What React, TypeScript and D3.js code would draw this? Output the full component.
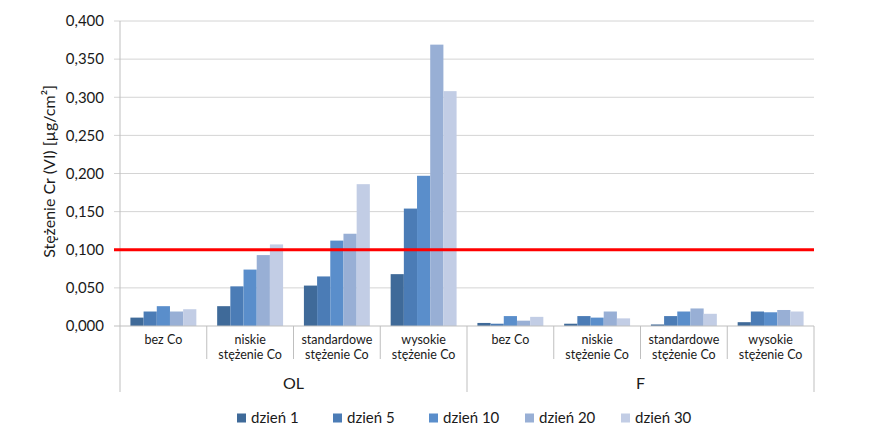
//@ts-nocheck
import React, { useRef, useEffect } from 'react'
import * as d3 from 'd3'

const groups = ['OL', 'F']
const subCategories = ['bez Co', 'niskie stężenie Co', 'standardowe stężenie Co', 'wysokie stężenie Co']
const series = ['dzień 1', 'dzień 5', 'dzień 10', 'dzień 20', 'dzień 30']
const colors = ['#3F6A99', '#4B7CB6', '#5A8ECB', '#98AFD5', '#C2CDE5']

// values per series, order: OL (4 subcategories), then F (4 subcategories)
const day1 = [0.011, 0.026, 0.053, 0.068, 0.004, 0.003, 0.002, 0.005]
const day5 = [0.019, 0.052, 0.065, 0.154, 0.003, 0.013, 0.013, 0.019]
const day10 = [0.026, 0.074, 0.112, 0.197, 0.013, 0.011, 0.019, 0.018]
const day20 = [0.019, 0.093, 0.121, 0.369, 0.007, 0.019, 0.023, 0.021]
const day30 = [0.022, 0.107, 0.186, 0.308, 0.012, 0.010, 0.016, 0.019]
const seriesValues = [day1, day5, day10, day20, day30]

const yTicks = [0, 0.05, 0.1, 0.15, 0.2, 0.25, 0.3, 0.35, 0.4]
const limitValue = 0.1

const fontFamily = 'Lato, "Open Sans", sans-serif'
const textColor = '#1a1a1a'

const App: React.FC = () => {
  const node = useRef<SVGSVGElement | null>(null)

  useEffect(() => {
    document.body.style.margin = '0'
    const width = 872
    const height = 447
    const svg = d3.select(node.current)
    svg.selectAll('*').remove()
    svg.attr('width', width).attr('height', height)

    const margin = { top: 21, right: 58, bottom: 121, left: 120 }
    const plotBottom = height - margin.bottom

    const keys = []
    groups.forEach((g) => subCategories.forEach((s) => keys.push(g + '|' + s)))

    const x = d3.scaleBand().domain(keys).range([margin.left, width - margin.right]).paddingInner(0).paddingOuter(0)
    const xGroup = d3.scaleBand().domain(groups).range([margin.left, width - margin.right])
    const xSeries = d3.scaleBand().domain(series).range([0, x.bandwidth()]).paddingInner(0).paddingOuter(0.79)

    const y = d3.scaleLinear().domain([0, 0.4]).range([plotBottom, margin.top])

    const fmt = (v) => d3.format('.3f')(v).replace('.', ',')

    // gridlines
    svg
      .append('g')
      .selectAll('line')
      .data(yTicks.filter((t) => t > 0))
      .join('line')
      .attr('x1', margin.left - 6)
      .attr('x2', width - margin.right)
      .attr('y1', (d) => y(d))
      .attr('y2', (d) => y(d))
      .attr('stroke', '#D4D4D4')
      .attr('stroke-width', 1)

    // tick mark at zero
    svg
      .append('line')
      .attr('x1', margin.left - 6)
      .attr('x2', margin.left)
      .attr('y1', y(0))
      .attr('y2', y(0))
      .attr('stroke', '#BFBFBF')

    // y labels
    svg
      .append('g')
      .selectAll('text')
      .data(yTicks)
      .join('text')
      .attr('x', margin.left - 16)
      .attr('y', (d) => y(d))
      .attr('dy', '0.35em')
      .attr('text-anchor', 'end')
      .attr('font-family', fontFamily)
      .attr('font-size', 15)
      .attr('fill', textColor)
      .text((d) => fmt(d))

    // y axis line
    svg
      .append('line')
      .attr('x1', margin.left)
      .attr('x2', margin.left)
      .attr('y1', margin.top)
      .attr('y2', plotBottom)
      .attr('stroke', '#BFBFBF')

    // y axis title
    svg
      .append('text')
      .attr('transform', `translate(55,${(margin.top + plotBottom) / 2 - 2}) rotate(-90)`)
      .attr('text-anchor', 'middle')
      .attr('font-family', fontFamily)
      .attr('font-size', 16)
      .attr('fill', textColor)
      .text('Stężenie Cr (VI) [µg/cm²]')

    // bars
    const barG = svg.append('g')
    series.forEach((s, si) => {
      barG
        .append('g')
        .selectAll('rect')
        .data(seriesValues[si])
        .join('rect')
        .attr('x', (d, i) => x(keys[i]) + xSeries(s))
        .attr('width', xSeries.bandwidth())
        .attr('y', (d) => y(d))
        .attr('height', (d) => y(0) - y(d))
        .attr('fill', colors[si])
    })

    // category axis line
    svg
      .append('line')
      .attr('x1', margin.left)
      .attr('x2', width - margin.right)
      .attr('y1', plotBottom)
      .attr('y2', plotBottom)
      .attr('stroke', '#BFBFBF')

    // subcategory separators
    const sepG = svg.append('g')
    keys.forEach((k, i) => {
      const isGroupEdge = i % subCategories.length === 0
      sepG
        .append('line')
        .attr('x1', x(k))
        .attr('x2', x(k))
        .attr('y1', plotBottom)
        .attr('y2', isGroupEdge ? plotBottom + 66 : plotBottom + 33)
        .attr('stroke', '#BFBFBF')
    })
    sepG
      .append('line')
      .attr('x1', width - margin.right)
      .attr('x2', width - margin.right)
      .attr('y1', plotBottom)
      .attr('y2', plotBottom + 66)
      .attr('stroke', '#BFBFBF')

    // subcategory labels
    const labelG = svg.append('g')
    keys.forEach((k) => {
      const label = k.split('|')[1]
      let lines = [label]
      if (label.endsWith('stężenie Co')) {
        lines = [label.replace(' stężenie Co', ''), 'stężenie Co']
      }
      lines.forEach((l, li) => {
        labelG
          .append('text')
          .attr('x', x(k) + x.bandwidth() / 2)
          .attr('y', plotBottom + 18 + li * 15)
          .attr('text-anchor', 'middle')
          .attr('font-family', fontFamily)
          .attr('font-size', 12.5)
          .attr('fill', textColor)
          .text(l)
      })
    })

    // group labels
    svg
      .append('g')
      .selectAll('text')
      .data(groups)
      .join('text')
      .attr('x', (d) => xGroup(d) + xGroup.bandwidth() / 2)
      .attr('y', plotBottom + 63)
      .attr('text-anchor', 'middle')
      .attr('font-family', fontFamily)
      .attr('font-size', 16)
      .attr('fill', textColor)
      .text((d) => d)

    // limit line
    svg
      .append('line')
      .attr('x1', margin.left - 6)
      .attr('x2', width - margin.right)
      .attr('y1', y(limitValue))
      .attr('y2', y(limitValue))
      .attr('stroke', '#FF0000')
      .attr('stroke-width', 3)

    // legend
    const legendX = d3.scaleBand().domain(series).range([237, 717])
    const lg = svg
      .append('g')
      .selectAll('g')
      .data(series)
      .join('g')
      .attr('transform', (d) => `translate(${legendX(d)},418)`)
    lg.append('rect')
      .attr('x', 0)
      .attr('y', -4.5)
      .attr('width', 9)
      .attr('height', 9)
      .attr('fill', (d, i) => colors[i])
    lg.append('text')
      .attr('x', 14)
      .attr('dy', '0.35em')
      .attr('font-family', fontFamily)
      .attr('font-size', 15)
      .attr('fill', textColor)
      .text((d) => d)
  }, [node])

  return <svg ref={node} style={{ display: 'block' }}></svg>
}

export default App
